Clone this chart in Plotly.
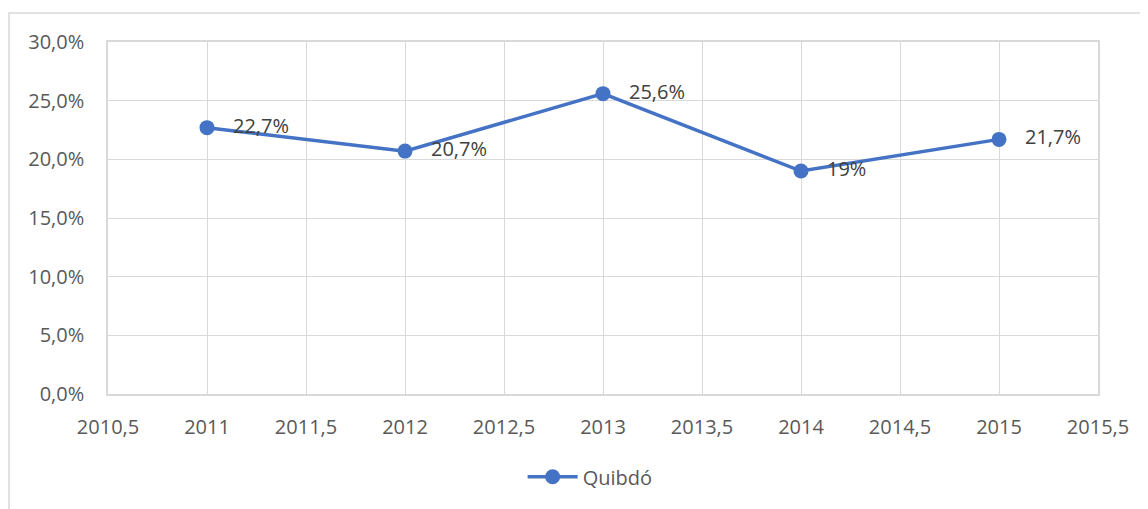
import plotly.graph_objects as go

years = [2011, 2012, 2013, 2014, 2015]
values = [0.227, 0.207, 0.256, 0.19, 0.217]
series_name = "Quibdó"
labels = [f"{v*100:g}".replace(".", ",") + "%" for v in values]

FONT = "Open Sans"
GRID = "#d9d9d9"
TXT = "#595959"
BLUE = "#4472C4"

fig = go.Figure()
fig.add_trace(go.Scatter(
    x=years, y=values, name=series_name,
    mode="lines+markers+text",
    text=["   " + t for t in labels],
    textposition="middle right",
    textfont=dict(family=FONT, size=20, color="#404040"),
    line=dict(color=BLUE, width=3.5),
    marker=dict(color=BLUE, size=15),
))

fig.add_shape(type="rect", xref="paper", yref="paper",
              x0=-0.1, x1=1.2, y0=-0.6, y1=1.0824,
              line=dict(color=GRID, width=1.5), fillcolor="rgba(0,0,0,0)",
              layer="below")

fig.update_layout(
    width=1140, height=501,
    margin=dict(l=100, r=50, t=34, b=115),
    paper_bgcolor="white", plot_bgcolor="white",
    separators=",.",
    font=dict(family=FONT, size=20, color=TXT),
    showlegend=True,
    legend=dict(orientation="h", x=0.487, xanchor="center", y=-0.235, yanchor="middle",
                font=dict(family=FONT, size=20, color=TXT), itemwidth=50),
    xaxis=dict(range=[2010.5, 2015.5], tick0=2010.5, dtick=0.5, tickformat=".1~f",
               showgrid=True, gridcolor=GRID, gridwidth=1,
               showline=True, linecolor=GRID, linewidth=1.5, mirror=True,
               zeroline=False, ticks="outside", ticklen=14, tickcolor="rgba(0,0,0,0)"),
    yaxis=dict(range=[0, 0.30], dtick=0.05, tickformat=".1%",
               showgrid=True, gridcolor=GRID, gridwidth=1,
               showline=True, linecolor=GRID, linewidth=1.5, mirror=True,
               zeroline=False, ticks="outside", ticklen=18, tickcolor="rgba(0,0,0,0)"),
)

fig.write_html("out.html")
